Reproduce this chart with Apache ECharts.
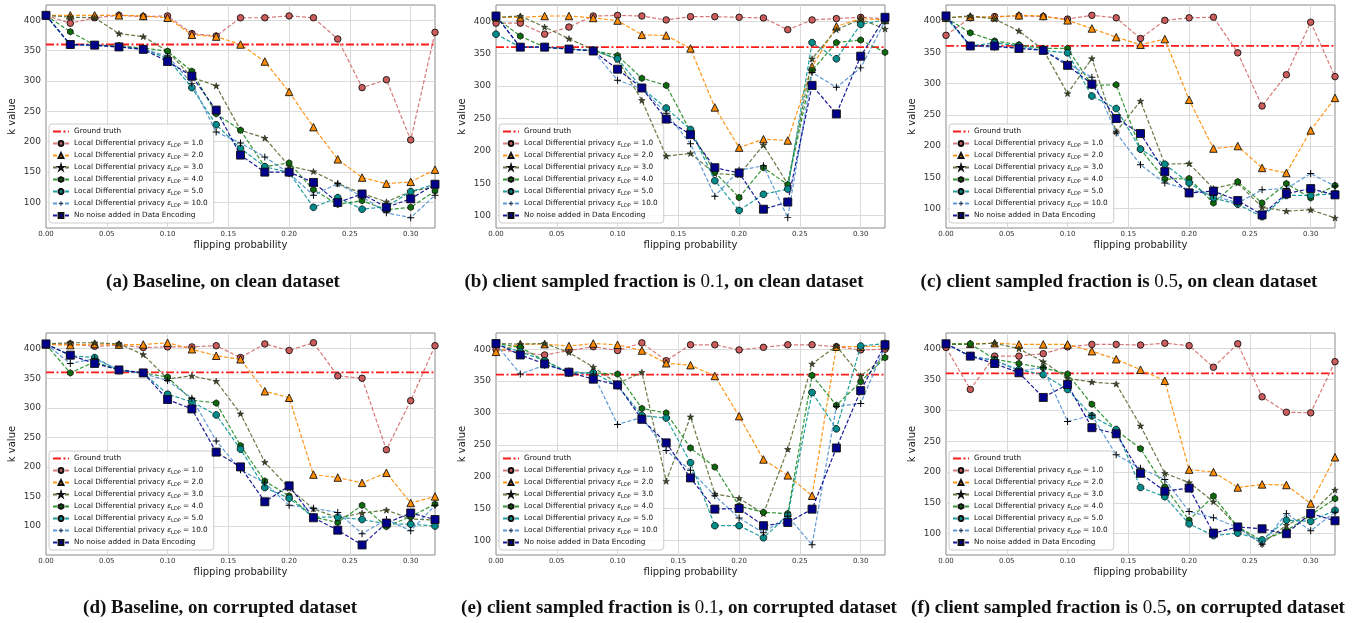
<!DOCTYPE html>
<html><head><meta charset="utf-8">
<script src="https://cdn.jsdelivr.net/npm/echarts@6/dist/echarts.min.js"></script>
<style>html,body{margin:0;padding:0;background:#fff}#c{width:1367px;height:623px}</style>
</head><body><div id="c"></div>
<script>
// ---------- DATA ----------
const flipProb = [0,0.02,0.04,0.06,0.08,0.10,0.12,0.14,0.16,0.18,0.20,0.22,0.24,0.26,0.28,0.30,0.32];
const groundTruth = 360;
const seriesNames = [
  'Local Differential privacy εLDP = 1.0',
  'Local Differential privacy εLDP = 2.0',
  'Local Differential privacy εLDP = 3.0',
  'Local Differential privacy εLDP = 4.0',
  'Local Differential privacy εLDP = 5.0',
  'Local Differential privacy εLDP = 10.0',
  'No noise added in Data Encoding'
];
const xTickLabels = ['0.00','0.05','0.10','0.15','0.20','0.25','0.30'];
const yTickLabels = ['100','150','200','250','300','350','400'];
const captions = [
  '(a) Baseline, on clean dataset',
  '(b) client sampled fraction is {n|0.1}, on clean dataset',
  '(c) client sampled fraction is {n|0.5}, on clean dataset',
  '(d) Baseline, on corrupted dataset',
  '(e) client sampled fraction is {n|0.1}, on corrupted dataset',
  '(f) client sampled fraction is {n|0.5}, on corrupted dataset'
];

// (a) Baseline, clean
const a_eps1  = [408,395,404,408,406,407,378,374,404,404,407,404,369,289,302,203,380];
const a_eps2  = [408,408,408,408,407,404,376,373,360,332,282,224,171,141,131,134,154];
const a_eps3  = [408,405,404,378,373,349,306,292,219,206,160,151,131,115,101,118,126];
const a_eps4  = [408,381,359,358,354,349,316,246,219,159,165,121,97,103,88,92,119];
const a_eps5  = [408,359,359,356,353,337,289,228,189,159,149,92,108,89,93,118,130];
const a_eps10 = [408,359,358,356,352,341,296,216,198,175,148,112,131,110,83,75,112];
const a_none  = [408,360,359,356,352,332,308,252,178,150,150,133,100,114,92,106,130];
// (b) fraction 0.1, clean
const b_eps1  = [397,397,380,391,408,409,408,402,407,407,406,405,387,402,404,406,404];
const b_eps2  = [406,406,408,408,405,401,379,378,358,267,205,218,216,330,392,404,402];
const b_eps3  = [406,408,391,373,356,341,278,192,196,165,163,209,149,342,387,403,388];
const b_eps4  = [405,377,360,357,355,347,312,301,230,167,128,174,148,324,367,371,352];
const b_eps5  = [380,360,360,357,355,342,297,266,233,154,108,133,141,367,342,395,402];
const b_eps10 = [408,360,360,357,354,309,296,258,211,130,170,177,97,321,298,328,400];
const b_none  = [408,360,360,357,354,326,297,249,225,174,166,110,121,301,257,346,406];
// (c) fraction 0.5, clean
const c_eps1  = [377,405,407,408,407,403,409,405,372,401,405,406,349,264,314,398,311];
const c_eps2  = [405,407,406,409,408,401,388,374,362,371,274,196,200,165,157,225,277];
const c_eps3  = [405,408,403,384,354,284,340,223,272,171,172,132,141,102,96,98,85];
const c_eps4  = [405,381,368,362,356,356,297,298,195,147,148,109,143,109,140,117,137];
const c_eps5  = [405,360,365,360,353,349,280,260,195,171,141,117,107,87,121,121,124];
const c_eps10 = [408,360,358,357,353,332,310,221,170,141,131,121,109,130,132,156,136];
const c_none  = [408,360,360,356,353,329,299,244,220,159,125,128,113,90,124,132,122];
// (d) Baseline, corrupted
const d_eps1  = [407,408,404,406,402,403,403,405,385,408,397,410,354,350,229,312,405];
const d_eps2  = [407,406,408,407,407,410,399,388,382,328,317,187,182,173,190,139,150];
const d_eps3  = [408,410,410,408,390,349,354,345,290,208,164,129,114,122,127,112,110];
const d_eps4  = [407,359,378,364,359,352,313,308,236,176,151,115,106,135,99,116,137];
const d_eps5  = [408,388,385,363,359,323,310,288,230,165,147,115,115,111,104,103,100];
const d_eps10 = [408,375,383,364,358,346,316,244,195,173,135,130,123,87,111,92,135];
const d_none  = [408,389,375,364,359,314,298,225,200,141,168,114,93,68,105,122,111];
// (e) fraction 0.1, corrupted
const e_eps1  = [400,395,391,398,404,398,410,382,407,407,399,403,407,407,404,399,400];
const e_eps2  = [396,408,408,405,409,407,398,378,375,358,295,227,202,170,404,404,405];
const e_eps3  = [409,408,409,395,372,346,364,193,294,173,166,142,243,377,405,358,388];
const e_eps4  = [409,403,382,363,363,361,307,300,245,215,154,144,142,359,312,349,387];
const e_eps5  = [408,396,382,363,363,343,296,292,222,123,123,104,139,332,275,405,409];
const e_eps10 = [408,361,375,366,361,282,293,241,210,170,135,112,138,93,310,315,404];
const e_none  = [409,391,377,364,353,344,290,253,198,149,150,123,128,149,245,335,407];
// (f) fraction 0.5, corrupted
const f_eps1  = [402,334,388,388,392,403,407,407,406,409,405,370,408,322,297,296,379];
const f_eps2  = [408,408,409,407,407,407,396,383,366,348,204,200,175,180,179,149,224];
const f_eps3  = [407,407,409,400,379,352,346,343,275,198,183,152,111,84,114,132,171];
const f_eps4  = [408,408,383,376,369,359,310,268,238,176,122,161,111,89,105,130,157];
const f_eps5  = [408,388,381,366,358,334,291,269,175,160,116,97,101,90,122,120,138];
const f_eps10 = [408,388,381,364,369,282,292,228,206,188,136,126,110,83,133,105,135];
const f_none  = [408,388,376,361,321,342,272,262,198,169,174,101,111,108,100,133,121];

// ---------- LAYOUT / STYLE ----------
const panelData = [
  [a_eps1,a_eps2,a_eps3,a_eps4,a_eps5,a_eps10,a_none],
  [b_eps1,b_eps2,b_eps3,b_eps4,b_eps5,b_eps10,b_none],
  [c_eps1,c_eps2,c_eps3,c_eps4,c_eps5,c_eps10,c_none],
  [d_eps1,d_eps2,d_eps3,d_eps4,d_eps5,d_eps10,d_none],
  [e_eps1,e_eps2,e_eps3,e_eps4,e_eps5,e_eps10,e_none],
  [f_eps1,f_eps2,f_eps3,f_eps4,f_eps5,f_eps10,f_none]
];
const yRanges = [[58,425],[81,425],[69,425.5],[51,426.5],[77,425.5],[65.5,425.5]];
const grids = [
  {left:46,top:5,width:389,height:223},{left:496,top:5,width:389,height:223},{left:946,top:5,width:389,height:223},
  {left:46,top:333,width:389,height:222},{left:496,top:333,width:389,height:222},{left:946,top:333,width:389,height:222}
];
const capPos = [[223,282],[664,282],[1119,282],[220,608],[679,608],[1128,608]];

const STAR = 'path://M0,-1L0.223,-0.307L0.951,-0.309L0.361,0.117L0.588,0.809L0,0.38L-0.588,0.809L-0.361,0.117L-0.951,-0.309L-0.223,-0.307Z';
const HEX = 'path://M0,-1L0.866,-0.5L0.866,0.5L0,1L-0.866,0.5L-0.866,-0.5Z';
const OCT = 'path://M0.383,-0.924L0.924,-0.383L0.924,0.383L0.383,0.924L-0.383,0.924L-0.924,0.383L-0.924,-0.383L-0.383,-0.924Z';
const PLUS = 'path://M-0.14,-1L0.14,-1L0.14,-0.14L1,-0.14L1,0.14L0.14,0.14L0.14,1L-0.14,1L-0.14,0.14L-1,0.14L-1,-0.14L-0.14,-0.14Z';
const styles = [
  {line:'#d46a6a', fill:'#cd5c5c', sym:'circle', size:6.5, bw:0.9},
  {line:'#ff8c00', fill:'#ff8c00', sym:'triangle', size:7.5, bw:0.9},
  {line:'#556b2f', fill:'#3d4a22', sym:STAR, size:6.5, bw:0.5},
  {line:'#1e8a1e', fill:'#0b6b0b', sym:HEX, size:6.5, bw:0.8},
  {line:'#079494', fill:'#008b8b', sym:OCT, size:6.5, bw:0.8},
  {line:'#4f8fcf', fill:'#000000', sym:PLUS, size:7, bw:0},
  {line:'#00008b', fill:'#00008b', sym:'rect', size:8, bw:0.9}
];

const isMult = (v, step) => Math.abs(v/step - Math.round(v/step)) < 1e-6;
const ff = 'DejaVu Sans';

const option = {
  animation: false,
  backgroundColor: '#fff',
  grid: grids.map(g => Object.assign({show:true, borderColor:'#8a8a8a', borderWidth:1, backgroundColor:'transparent', containLabel:false}, g)),
  xAxis: grids.map((g,i) => ({
    type:'value', gridIndex:i, min:0, max:0.32, minInterval:0.05, maxInterval:0.05,
    name:'flipping probability', nameLocation:'middle', nameGap:12,
    nameTextStyle:{fontFamily:ff, fontSize:10, color:'#222'},
    axisLine:{show:false}, axisTick:{show:false},
    axisLabel:{fontFamily:ff, fontSize:7, color:'#333', margin:3, showMaxLabel:false,
      formatter: v => isMult(v,0.05) ? xTickLabels[Math.round(v/0.05)] || '' : ''},
    splitLine:{show:true, showMinLine:false, showMaxLine:false, lineStyle:{color:'#dadada', width:1}}
  })),
  yAxis: grids.map((g,i) => ({
    type:'value', gridIndex:i, min:yRanges[i][0], max:yRanges[i][1], minInterval:50, maxInterval:50,
    name:'k value', nameLocation:'middle', nameGap:29,
    nameTextStyle:{fontFamily:ff, fontSize:10, color:'#222'},
    axisLine:{show:false}, axisTick:{show:false},
    axisLabel:{fontFamily:ff, fontSize:9, color:'#333', margin:5,
      formatter: v => { if (!isMult(v,50)) return ''; const k = Math.round(v/50)-2; return yTickLabels[k] || ''; }},
    splitLine:{show:true, showMinLine:false, showMaxLine:false, lineStyle:{color:'#dadada', width:1}}
  })),
  legend: grids.map((g,i) => ({
    orient:'vertical', left: g.left+3, bottom: 623 - (g.top+g.height) + 5,
    data: [{name:'Ground truth', itemStyle:{opacity:0}}].concat(seriesNames),
    itemWidth:16, itemHeight:6, itemGap:3, selectedMode:false,
    backgroundColor:'rgba(255,255,255,0.8)', borderColor:'#cccccc', borderWidth:1, borderRadius:3,
    padding:[3,6,3,3],
    textStyle:{fontFamily:ff, fontSize:7.3, color:'#111', lineHeight:9,
      rich:{ e:{fontFamily:ff, fontSize:7.3, fontStyle:'italic', color:'#111'},
             s:{fontFamily:ff, fontSize:5, color:'#111', verticalAlign:'bottom', lineHeight:9, padding:[3,0,0,0]} }},
    formatter: n => n.replace('εLDP', '{e|ε}{s|LDP}')
  })),
  series: [],
  graphic: captions.map((c,i) => ({
    type:'text', x:capPos[i][0], y:capPos[i][1],
    style:{text:c, align:'center', verticalAlign:'middle', fontFamily:'Liberation Serif', fontSize:19, fontWeight:'bold', fill:'#111',
      rich:{n:{fontFamily:'Liberation Serif', fontSize:19, fontWeight:'normal', fill:'#111'}}}
  }))
};

grids.forEach((g,i) => {
  option.series.push({
    type:'line', name:'Ground truth', xAxisIndex:i, yAxisIndex:i,
    data: [[0,groundTruth],[0.32,groundTruth]], symbol:'none',
    lineStyle:{color:'#ff1a1a', width:1.8, type:[8,2.5,2,2.5]}, itemStyle:{color:'#ff1a1a'},
    silent:true, z:2
  });
  panelData[i].forEach((arr,s) => {
    const st = styles[s];
    option.series.push({
      type:'line', name:seriesNames[s], xAxisIndex:i, yAxisIndex:i,
      data: flipProb.map((x,k) => [x, arr[k]]),
      symbol: st.sym, symbolSize: st.size, showSymbol:true, symbolKeepAspect:true,
      lineStyle:{color:st.line, width:1.2, type:[4,2], opacity:0.9},
      itemStyle:{color:st.fill, borderColor:'#111', borderWidth:st.bw},
      silent:true, z:3+s
    });
  });
});

const chart = echarts.init(document.getElementById('c'), null, {renderer:'canvas'});
chart.setOption(option);
</script></body></html>
